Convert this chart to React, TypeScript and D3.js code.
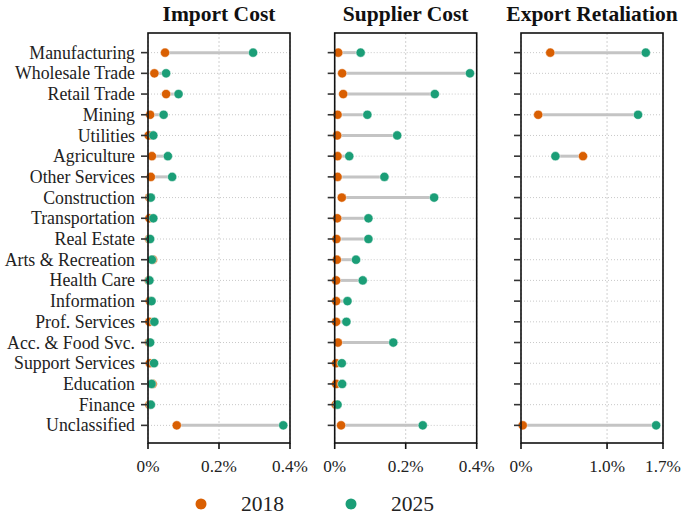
import React from "react";
import * as d3 from "d3";

const categories = [
  "Manufacturing", "Wholesale Trade", "Retail Trade", "Mining", "Utilities",
  "Agriculture", "Other Services", "Construction", "Transportation", "Real Estate",
  "Arts & Recreation", "Health Care", "Information", "Prof. Services",
  "Acc. & Food Svc.", "Support Services", "Education", "Finance", "Unclassified",
];

const panelTitles = ["Import Cost", "Supplier Cost", "Export Retaliation"];

const importCost2018 = [0.048, 0.018, 0.051, 0.006, 0.002, 0.011, 0.008, 0.004, 0.004, 0.003, 0.014, 0.002, 0.005, 0.004, 0.003, 0.005, 0.013, 0.004, 0.081];
const importCost2025 = [0.296, 0.051, 0.086, 0.044, 0.015, 0.056, 0.068, 0.008, 0.015, 0.006, 0.011, 0.004, 0.010, 0.018, 0.006, 0.017, 0.010, 0.008, 0.381];
const supplierCost2018 = [0.010, 0.021, 0.024, 0.008, 0.007, 0.008, 0.008, 0.020, 0.007, 0.005, 0.006, 0.004, 0.004, 0.004, 0.009, 0.004, 0.004, 0.003, 0.018];
const supplierCost2025 = [0.073, 0.381, 0.282, 0.092, 0.176, 0.041, 0.140, 0.280, 0.095, 0.095, 0.060, 0.079, 0.036, 0.033, 0.165, 0.020, 0.021, 0.008, 0.248];
const exportRet2018: (number | null)[] = [0.34, null, null, 0.20, null, 0.72, null, null, null, null, null, null, null, null, null, null, null, null, 0.02];
const exportRet2025: (number | null)[] = [1.45, null, null, 1.36, null, 0.40, null, null, null, null, null, null, null, null, null, null, null, null, 1.57];

const xMaxes = [0.4, 0.4, 1.65];
const tickValues = [[0, 0.2, 0.4], [0, 0.2, 0.4], [0, 1.0, 1.65]];
const tickLabels = [["0%", "0.2%", "0.4%"], ["0%", "0.2%", "0.4%"], ["0%", "1.0%", "1.7%"]];

const years = ["2018", "2025"];
const C2018 = "#d95f02";
const C2025 = "#1b9e77";

const FONT = "'Liberation Serif', 'Times New Roman', serif";

const series2018 = [importCost2018, supplierCost2018, exportRet2018];
const series2025 = [importCost2025, supplierCost2025, exportRet2025];

export default function App() {
  const W = 681, H = 516;
  const panelX = [148, 334.7, 521];
  const panelW = 142;
  const top = 33, bottom = 443;

  const y = d3.scalePoint<string>().domain(categories).range([top + 1, bottom + 1]).padding(0.9);

  return (
    <svg width={W} height={H} style={{ position: "absolute", left: 0, top: 0, background: "#fff" }} fontFamily={FONT}>
      {panelTitles.map((title, p) => {
        const x = d3.scaleLinear().domain([0, xMaxes[p]]).range([panelX[p], panelX[p] + panelW]);
        const s18 = series2018[p];
        const s25 = series2025[p];
        return (
          <g key={title}>
            {categories.map((c) => (
              <line key={"hg" + c} x1={panelX[p]} x2={panelX[p] + panelW} y1={y(c)} y2={y(c)}
                stroke="#c8c8c8" strokeWidth={1} strokeDasharray="1,2" />
            ))}
            {tickValues[p].map((t, i) => (
              <line key={"vg" + i} x1={x(t)} x2={x(t)} y1={top} y2={bottom}
                stroke="#d0d0d0" strokeWidth={1} strokeDasharray="2,2" />
            ))}
            {categories.map((c, i) => {
              const a = s18[i], b = s25[i];
              if (a == null || b == null) return null;
              return (
                <line key={"cn" + c} x1={x(a)} x2={x(b)} y1={y(c)} y2={y(c)}
                  stroke="#c4c4c4" strokeWidth={3} />
              );
            })}
            {categories.map((c, i) => {
              const a = s18[i];
              if (a == null) return null;
              return <circle key={"a" + c} cx={x(a)} cy={y(c)} r={4.6} fill={C2018} stroke="#fff" strokeWidth={0.5} />;
            })}
            {categories.map((c, i) => {
              const b = s25[i];
              if (b == null) return null;
              return <circle key={"b" + c} cx={x(b)} cy={y(c)} r={4.6} fill={C2025} stroke="#fff" strokeWidth={0.5} />;
            })}
            <rect x={panelX[p]} y={top} width={panelW} height={bottom - top} fill="none" stroke="#111" strokeWidth={1.6} />
            {categories.map((c) => (
              <line key={"yt" + c} x1={panelX[p] - 7} x2={panelX[p]} y1={y(c)} y2={y(c)} stroke="#333" strokeWidth={1.6} />
            ))}
            {p === 0 && categories.map((c) => (
              <text key={"yl" + c} x={panelX[p] - 13} y={y(c)} dy="0.34em" textAnchor="end" fontSize={17.8} fill="#222">{c}</text>
            ))}
            {tickValues[p].map((t, i) => (
              <g key={"xt" + i}>
                <line x1={x(t)} x2={x(t)} y1={bottom} y2={bottom + 6} stroke="#111" strokeWidth={1.6} />
                <text x={x(t)} y={bottom + 29} textAnchor="middle" fontSize={17.2} fill="#222">{tickLabels[p][i]}</text>
              </g>
            ))}
            <text x={panelX[p] + panelW / 2} y={21} textAnchor="middle" fontSize={21.5} fontWeight="bold" fill="#111">{title}</text>
          </g>
        );
      })}
      {years.map((yr, i) => (
        <g key={yr}>
          <circle cx={201 + i * 150} cy={504} r={5.5} fill={i === 0 ? C2018 : C2025} />
          <text x={241 + i * 150} y={511} fontSize={21.5} fill="#222">{yr}</text>
        </g>
      ))}
    </svg>
  );
}
